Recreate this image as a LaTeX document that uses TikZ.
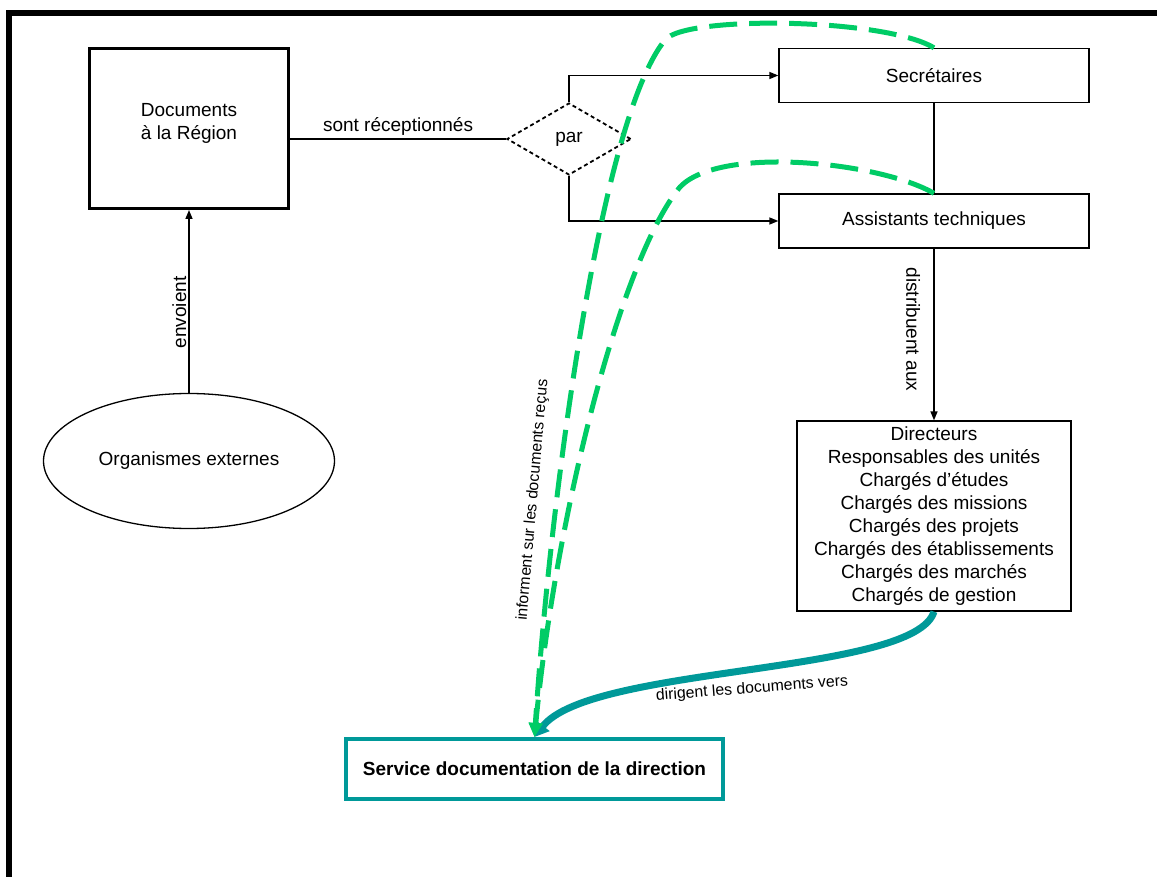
\documentclass[tikz,border=0pt]{standalone}
\usepackage{fontspec}
\setmainfont{Liberation Sans}
\usetikzlibrary{shapes.geometric,arrows.meta}
\definecolor{flowteal}{RGB}{0,153,153}
\definecolor{flowgreen}{RGB}{0,204,102}
\begin{document}
\begin{tikzpicture}[x=1pt,y=-1pt,
  font=\fontsize{19}{23}\selectfont,
  box/.style={draw, line width=1.3pt, align=center, inner sep=0pt},
  conn/.style={line width=1.5pt},
  tip/.style={-{Triangle[length=9pt,width=7pt]}},
  small/.style={font=\fontsize{15.8}{19}\selectfont},
  informs/.style={flowgreen, line width=5pt, dash pattern=on 28pt off 12pt,
    -{Triangle[length=14pt,width=13pt]}},
  directs/.style={flowteal, line width=7pt, -{Triangle[length=14pt,width=16pt]}},
]
\useasboundingbox (0,0) rectangle (1157,877);
% page frame
\draw[line width=6pt] (9,877) -- (9,13) -- (1157,13);

% nodes
\node[box, line width=3pt, minimum width=199pt, minimum height=160pt, text depth=14pt] (docs) at (189,128.5) {Documents\\à la Région};
\node[ellipse, draw, line width=1.3pt, minimum width=291pt, minimum height=135pt, inner sep=0pt] (org) at (189,461) {Organismes externes};
\node[diamond, draw, dash pattern=on 4pt off 3pt, line width=1.8pt, minimum width=124pt, minimum height=72pt, inner sep=0pt] (par) at (569,139) {par};
\node[box, minimum width=310pt, minimum height=54pt] (sec) at (934,75.5) {Secrétaires};
\node[box, minimum width=310pt, minimum height=54pt] (ast) at (934,221) {Assistants techniques};
\node[box, minimum width=274pt, minimum height=190pt] (lst) at (934,516) {Directeurs\\Responsables des unités\\Chargés d’études\\Chargés des missions\\Chargés des projets\\Chargés des établissements\\Chargés des marchés\\Chargés de gestion};
\node[draw=flowteal, line width=4pt, minimum width=377pt, minimum height=60pt, font=\bfseries\fontsize{19}{23}\selectfont] (svc) at (534.5,769) {Service documentation de la direction};

% black connectors
\draw[conn, tip] (org) -- node[pos=0.44, rotate=90, anchor=south, inner sep=2pt] {envoient} (docs);
\draw[conn] (docs.east |- par.west) -- node[above, inner sep=3pt] {sont réceptionnés} (par.west);
\draw[conn, tip] (par.north) |- (sec.west);
\draw[conn, tip] (par.south) |- (ast.west);
\draw[conn] (sec) -- (ast);
\draw[conn, tip] (ast) -- node[pos=0.47, rotate=-90, anchor=north, inner sep=13pt] {distribuent aux} (lst);

% coloured flows
\draw[directs] (lst.south) .. controls (915,675) and (590,665) .. (svc.north);
\node[small, rotate=4.4] (lbldir) at (752,689) {dirigent les documents vers};
\draw[informs] (sec.north) .. controls (885,18) and (685,15) .. (665,40)
  .. controls (600,120) and (550,500) .. (svc.north);
\draw[informs] (ast.north) .. controls (880,162) and (720,145) .. (680,187)
  .. controls (620,260) and (555,520) .. (svc.north);
\node[small, rotate=85] (lblinf) at (533,500) {informent sur les documents reçus};
\end{tikzpicture}
\end{document}
